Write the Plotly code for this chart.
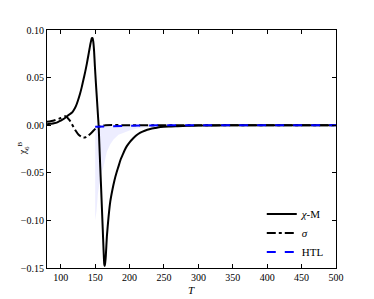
import plotly.graph_objects as go

# chi-M curve
chi_T = [80, 85, 90, 95, 99, 104, 110, 113, 116, 119, 122, 125, 128, 130.5, 133, 135.5, 138, 140,
         141.5, 143, 144.2, 145.2, 146.2, 147.2, 148.4, 149.6, 151, 152.6, 154, 155, 156.2,
         157.4, 158.6, 159.8, 161, 162.2, 162.8, 163.2, 163.8, 164.5, 165.5, 167, 169.5, 172,
         175, 178, 181, 184, 187, 190, 193, 196, 200, 205, 210, 215, 222, 230, 237, 245, 257,
         270, 285, 300, 325, 350, 400, 450, 500]
chi_V = [0.001, 0.0015, 0.002, 0.003, 0.0045, 0.0065, 0.010, 0.0115, 0.013, 0.016, 0.020, 0.026,
         0.033, 0.040, 0.048, 0.056, 0.065, 0.073, 0.079, 0.085, 0.089, 0.0915, 0.0915, 0.088,
         0.078, 0.062, 0.045, 0.027, 0.011, 0.000, -0.022, -0.044, -0.065, -0.087, -0.109,
         -0.131, -0.141, -0.146, -0.148, -0.145, -0.137, -0.117, -0.096, -0.080, -0.068, -0.058,
         -0.050, -0.043, -0.036, -0.031, -0.026, -0.022, -0.018, -0.014, -0.0105, -0.008, -0.0058,
         -0.004, -0.003, -0.002, -0.0013, -0.001, -0.0006, -0.0004, -0.0002, -0.0001, 0.0, 0.0,
         0.0]

# sigma curve
sig_T = [80, 90, 100, 107, 113, 121, 126, 131, 135, 140, 145, 152, 158, 165, 200, 300, 400, 500]
sig_V = [0.0035, 0.005, 0.0075, 0.0095, 0.005, -0.005, -0.010, -0.0125, -0.013, -0.011, -0.0077,
         -0.0025, -0.001, 0.0, 0.0, 0.0, 0.0, 0.0]

# HTL curve
htl_T = [150, 160, 180, 200, 230, 260, 300, 400, 500]
htl_V = [-0.0015, -0.0012, -0.0008, -0.0005, -0.0002, 0.0, 0.0, 0.0, 0.0]

# uncertainty band
band_T = [150, 152, 154, 156, 158, 160, 162, 164.5, 167, 172, 177, 184, 191, 200, 211, 230, 260,
          300, 500]
band_hi = [-0.0015, -0.0014, -0.0014, -0.0013, -0.0013, -0.0012, -0.0012, -0.0011, -0.0011, -0.001,
           -0.0009, -0.0008, -0.0007, -0.0005, -0.0004, -0.0002, 0.0, 0.0, 0.0]
band_lo = [-0.100, -0.090, -0.072, -0.060, -0.053, -0.048, -0.044, -0.036, -0.028, -0.020, -0.0147,
           -0.010, -0.0077, -0.0055, -0.0035, -0.002, -0.001, -0.0003, 0.0]

x_ticks = [100, 150, 200, 250, 300, 350, 400, 450, 500]
y_ticks = [0.10, 0.05, 0.00, -0.05, -0.10, -0.15]

FONT = "Liberation Serif"

fig = go.Figure()
fig.add_trace(go.Scatter(x=band_T, y=band_hi, mode="lines", line=dict(width=0),
                         showlegend=False, hoverinfo="skip"))
fig.add_trace(go.Scatter(x=band_T, y=band_lo, mode="lines", line=dict(width=0),
                         fill="tonexty", fillcolor="rgba(0,0,255,0.07)",
                         showlegend=False, hoverinfo="skip"))
fig.add_trace(go.Scatter(x=chi_T, y=chi_V, mode="lines", name="<i>χ</i>-M",
                         line=dict(color="black", width=2, shape="spline", smoothing=0.5)))
fig.add_trace(go.Scatter(x=sig_T, y=sig_V, mode="lines", name="<i>σ</i>",
                         line=dict(color="black", width=2, dash="dashdot", shape="spline",
                                   smoothing=0.6)))
fig.add_trace(go.Scatter(x=htl_T, y=htl_V, mode="lines", name="HTL",
                         line=dict(color="blue", width=2, dash="dash")))

axis_common = dict(showline=True, linecolor="black", linewidth=1, mirror="ticks",
                   ticks="inside", ticklen=4, tickcolor="black", showgrid=False,
                   zeroline=False, automargin=False,
                   tickfont=dict(family=FONT, size=10, color="black"))

fig.update_xaxes(range=[80, 500], tickvals=x_ticks, **axis_common)
fig.update_yaxes(range=[-0.15, 0.10], tickvals=y_ticks, tickformat=".2f", **axis_common)

fig.add_annotation(text="<i>T</i>", xref="paper", yref="paper", x=0.5, y=-0.092,
                   xanchor="center", yanchor="middle", showarrow=False,
                   font=dict(family=FONT, size=11, color="black"))
fig.add_annotation(text="χ<sub>6</sub><sup>B</sup>", xref="paper", yref="paper", x=-0.082,
                   y=0.504, xanchor="center", yanchor="middle", showarrow=False, textangle=-90,
                   font=dict(family=FONT, size=10, color="black"))

# the page body has an 8px default margin, so the figure is offset by 8px
fig.update_layout(
    width=366, height=291,
    margin=dict(l=39, r=38, t=22, b=31),
    paper_bgcolor="white", plot_bgcolor="white",
    font=dict(family=FONT, size=11, color="black"),
    legend=dict(x=0.975, y=0.006, xanchor="right", yanchor="bottom", traceorder="normal",
                bgcolor="rgba(0,0,0,0)", font=dict(family=FONT, size=11),
                tracegroupgap=0, itemwidth=30),
)

fig.write_html("out.html")
